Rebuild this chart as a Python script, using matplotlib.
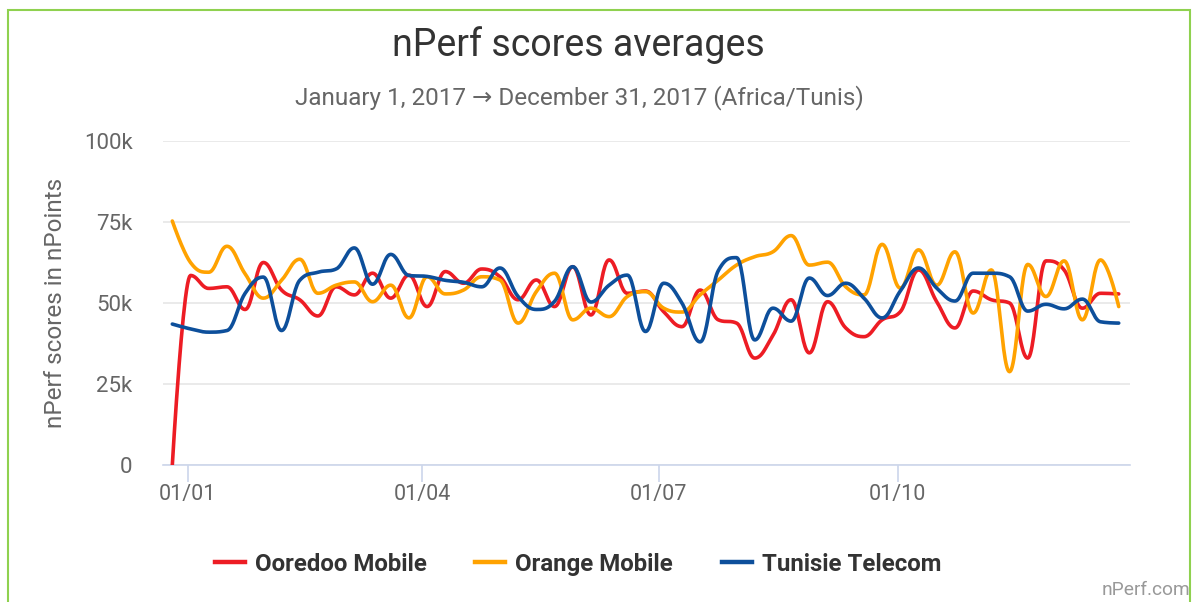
import numpy as np
import pandas as pd
import matplotlib
matplotlib.use("Agg")
import matplotlib.pyplot as plt
import matplotlib.dates as mdates
from matplotlib.patches import Rectangle
from matplotlib.lines import Line2D

plt.rcParams['font.family'] = ['Roboto', 'DejaVu Sans']

# ---- data (weekly, values in thousands of nPoints) ----
dates = pd.date_range('2016-12-26', periods=53, freq='7D')
series_names = ["Ooredoo Mobile", "Orange Mobile", "Tunisie Telecom"]
series_colors = ["#ed1c24", "#ffa200", "#0d4f9b"]

ooredoo = [0, 58.5, 54.5, 55, 48, 62.5, 54, 51, 46, 55, 52.5,
           59.2, 51.5, 58.6, 48.9, 59.7, 56.1, 60.5, 58.1, 51, 57.1, 48.9,
           61.2, 46.3, 63.3, 53, 53.7, 47.3, 42.7, 54, 44.8, 43.8,
           33, 40, 51, 34.6, 50.4, 42.3, 39.6, 44.8, 47.3, 60.2, 50.4,
           42.3, 53.7, 51, 50, 33, 63, 60.2, 48.4, 53, 52.8]
orange = [75.3, 62.5, 59.5, 67.5, 59, 51.5, 57, 63.5, 53, 55.5, 56.5,
          50.4, 55.5, 45.4, 58.1, 52.8, 54, 58.1, 57.1, 43.8, 53.5, 59.2,
          44.8, 48.4, 45.8, 52, 53.5, 48.4, 47.2, 52.5, 57.1, 61.7,
          64.3, 65.8, 70.8, 61.7, 62.6, 55, 52.5, 68.1, 54.6, 66.4, 55.5,
          65.8, 46.9, 60.2, 28.8, 61.9, 52, 63, 44.8, 63.3, 48.9]
tunisie = [43.5, 42, 41, 41.5, 53, 58, 41.5, 57, 59.5, 60.5, 67,
           55.8, 65, 58.5, 58.2, 57, 56.4, 55, 60.8, 52, 48, 50.5,
           61.2, 50.3, 55.5, 58.6, 41.2, 56.1, 50, 38, 60, 64,
           38.6, 48.4, 44.4, 57.7, 52.3, 56.1, 51.5, 45.4, 53.7, 60.8, 54.6,
           50.6, 59.2, 59.2, 58.1, 47.5, 49.6, 48.2, 51.2, 44.2, 43.8]

y_ticks = [0, 25000, 50000, 75000, 100000]
y_tick_labels = ["0", "25k", "50k", "75k", "100k"]
x_ticks = ['2017-01-01', '2017-04-01', '2017-07-01', '2017-10-01']
x_tick_labels = ["01/01", "01/04", "01/07", "01/10"]


def hc_spline(xs, ys, n=24):
    """Highcharts-style spline through the points (cubic Bezier segments)."""
    xs = np.asarray(xs, float)
    ys = np.asarray(ys, float)
    N = len(xs)
    lcx, lcy = xs.copy(), ys.copy()
    rcx, rcy = xs.copy(), ys.copy()
    s, d = 1.5, 2.5
    for i in range(1, N - 1):
        px, py = xs[i], ys[i]
        lx, ly = xs[i - 1], ys[i - 1]
        nx, ny = xs[i + 1], ys[i + 1]
        a_x = (s * px + lx) / d
        a_y = (s * py + ly) / d
        b_x = (s * px + nx) / d
        b_y = (s * py + ny) / d
        if b_x != a_x:
            corr = ((b_y - a_y) * (b_x - px)) / (b_x - a_x) + py - b_y
            a_y += corr
            b_y += corr
        if a_y > ly and a_y > py:
            a_y = max(ly, py); b_y = 2 * py - a_y
        elif a_y < ly and a_y < py:
            a_y = min(ly, py); b_y = 2 * py - a_y
        if b_y > ny and b_y > py:
            b_y = max(ny, py); a_y = 2 * py - b_y
        elif b_y < ny and b_y < py:
            b_y = min(ny, py); a_y = 2 * py - b_y
        lcx[i], lcy[i], rcx[i], rcy[i] = a_x, a_y, b_x, b_y
    t = np.linspace(0, 1, n)[:, None]
    outx, outy = [xs[0]], [ys[0]]
    for i in range(1, N):
        P = np.array([[xs[i - 1], ys[i - 1]], [rcx[i - 1], rcy[i - 1]],
                      [lcx[i], lcy[i]], [xs[i], ys[i]]])
        B = ((1 - t) ** 3) * P[0] + 3 * ((1 - t) ** 2) * t * P[1] + \
            3 * (1 - t) * t ** 2 * P[2] + t ** 3 * P[3]
        outx.extend(B[1:, 0]); outy.extend(B[1:, 1])
    return np.array(outx), np.array(outy)


W, H = 1199, 602
fig = plt.figure(figsize=(W / 100, H / 100), dpi=100)
fig.patch.set_facecolor('white')

# green frame
fig.patches.append(Rectangle((8 / W, -0.05), (1190 - 8) / W, 1.05 - 10 / H,
                             transform=fig.transFigure, fill=False,
                             edgecolor='#8fd14f', linewidth=1.5))

ax = fig.add_axes([163 / W, 1 - 465 / H, (1130 - 163) / W, (465 - 141) / H])

xnum = mdates.date2num(dates)
for vals, col in zip([ooredoo, orange, tunisie], series_colors):
    sx, sy = hc_spline(xnum, np.array(vals) * 1000)
    ax.plot(sx, sy, color=col, lw=2.6, solid_capstyle='round', zorder=3)

ax.set_ylim(0, 100000)
ax.set_xlim(mdates.date2num(pd.Timestamp('2016-12-22 10:00')),
            mdates.date2num(pd.Timestamp('2017-12-29 08:00')))
ax.set_yticks(y_ticks)
ax.set_yticklabels(y_tick_labels)
ax.set_xticks(mdates.date2num(pd.to_datetime(x_ticks)))
ax.set_xticklabels(x_tick_labels)

ax.grid(axis='y', color='#e6e6e6', lw=1.2)
ax.set_axisbelow(True)
for sp in ['top', 'right', 'left']:
    ax.spines[sp].set_visible(False)
ax.spines['bottom'].set_color('#ccd6eb')
ax.spines['bottom'].set_linewidth(1.2)
ax.tick_params(axis='y', length=0, pad=22, labelsize=16, labelcolor='#666666')
ax.tick_params(axis='x', length=12, width=1.2, color='#ccd6eb', pad=2,
               labelsize=15.5, labelcolor='#666666')
ax.set_ylabel("nPerf scores in nPoints", fontsize=17.5, color='#666666', labelpad=12)

fig.text(578 / W, 1 - 45 / H, "nPerf scores averages", ha='center', va='center',
         fontsize=27, color='#333333')
fig.text(579 / W, 1 - 98 / H, "January 1, 2017 \u2192 December 31, 2017 (Africa/Tunis)",
         ha='center', va='center', fontsize=17.5, color='#666666')
fig.text(1190 / W, 1 - 590 / H, "nPerf.com", ha='right', va='center',
         fontsize=13.8, color='#999999')

# legend (manual layout to keep all labels on one baseline)
leg_y = 1 - 562 / H
leg_line_x = [215, 475, 722]
for name, col, lx in zip(series_names, series_colors, leg_line_x):
    fig.add_artist(Line2D([lx / W, (lx + 30) / W], [leg_y, leg_y],
                          transform=fig.transFigure, color=col, lw=3.2))
    fig.text((lx + 40) / W, leg_y, name, ha='left', va='center_baseline',
             fontsize=17.3, fontweight='bold', color='#333333')

fig.savefig('out.png', dpi=100)
